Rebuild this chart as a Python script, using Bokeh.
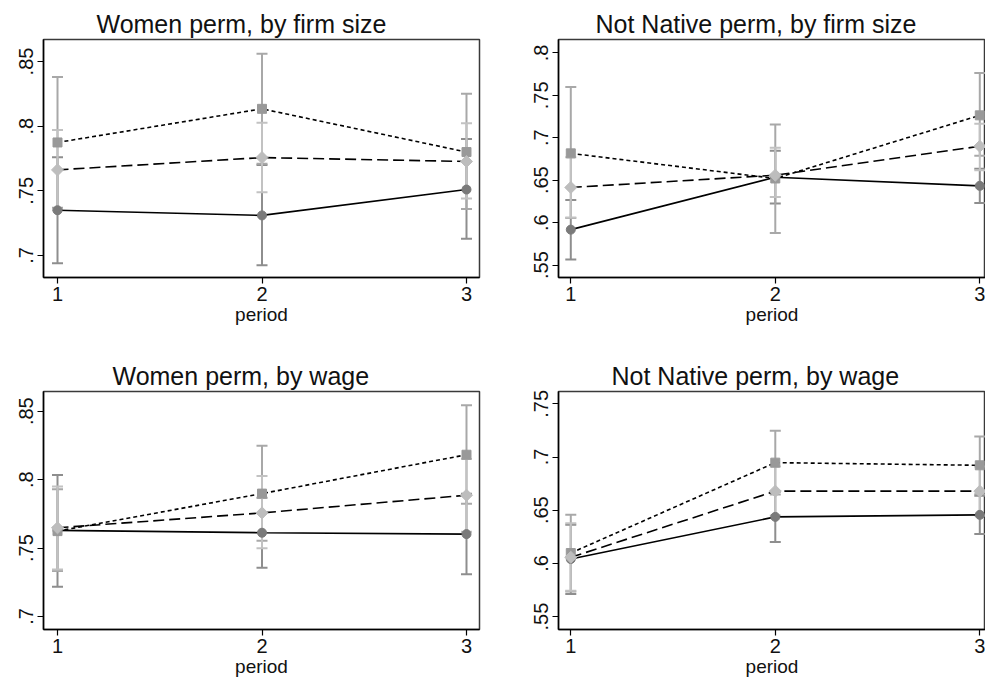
from bokeh.plotting import figure
from bokeh.models import FixedTicker, Range1d
from bokeh.layouts import row, column
from bokeh.embed import file_html
from bokeh.resources import INLINE
import math

period = [1, 2, 3]

# ---- Women perm, by firm size ----
wf_circle = [0.735, 0.731, 0.751]
wf_circle_lo = [0.694, 0.6925, 0.713]
wf_circle_hi = [0.776, 0.770, 0.790]
wf_square = [0.7874, 0.8134, 0.780]
wf_square_lo = [0.737, 0.771, 0.736]
wf_square_hi = [0.838, 0.856, 0.825]
wf_diamond = [0.7662, 0.7757, 0.7727]
wf_diamond_lo = [0.735, 0.749, 0.744]
wf_diamond_hi = [0.797, 0.8026, 0.8023]
wf_ticks = [0.7, 0.75, 0.8, 0.85]
wf_tick_labels = [".7", ".75", ".8", ".85"]

# ---- Not Native perm, by firm size ----
nf_circle = [0.5917, 0.6535, 0.6433]
nf_circle_lo = [0.5566, 0.6224, 0.623]
nf_circle_hi = [0.6267, 0.6846, 0.6636]
nf_square = [0.6816, 0.652, 0.7264]
nf_square_lo = [0.6054, 0.5877, 0.6787]
nf_square_hi = [0.7597, 0.7157, 0.7764]
nf_diamond = [0.6414, 0.6559, 0.690]
nf_diamond_lo = [0.606, 0.6303, 0.6618]
nf_diamond_hi = [0.677, 0.6882, 0.7165]
nf_ticks = [0.55, 0.6, 0.65, 0.7, 0.75, 0.8]
nf_tick_labels = [".55", ".6", ".65", ".7", ".75", ".8"]

# ---- Women perm, by wage ----
ww_circle = [0.7629, 0.7612, 0.7602]
ww_circle_lo = [0.7217, 0.7356, 0.7308]
ww_circle_hi = [0.8034, 0.7868, 0.7896]
ww_square = [0.7624, 0.7898, 0.8182]
ww_square_lo = [0.7332, 0.7553, 0.7823]
ww_square_hi = [0.793, 0.8247, 0.8544]
ww_diamond = [0.7648, 0.7757, 0.7886]
ww_diamond_lo = [0.7344, 0.7498, 0.762]
ww_diamond_hi = [0.795, 0.8027, 0.815]
ww_ticks = [0.7, 0.75, 0.8, 0.85]
ww_tick_labels = [".7", ".75", ".8", ".85"]

# ---- Not Native perm, by wage ----
nw_circle = [0.6041, 0.6437, 0.6456]
nw_circle_lo = [0.5711, 0.6201, 0.6276]
nw_circle_hi = [0.6364, 0.6673, 0.6636]
nw_square = [0.6097, 0.6947, 0.6922]
nw_square_lo = [0.5736, 0.6647, 0.665]
nw_square_hi = [0.6458, 0.7247, 0.7193]
nw_diamond = [0.6057, 0.6679, 0.6679]
nw_diamond_lo = [0.5743, 0.645, 0.645]
nw_diamond_hi = [0.6377, 0.691, 0.691]
nw_ticks = [0.55, 0.6, 0.65, 0.7, 0.75]
nw_tick_labels = [".55", ".6", ".65", ".7", ".75"]

FONT = "Liberation Sans"
C_MARK = ["#7a7a7a", "#999999", "#bdbdbd"]
C_BAR = ["#8e8e8e", "#a8a8a8", "#c2c2c2"]
DASH = ["solid", "4 3", "11 5"]


def panel(title, series, ticks, labels, yr, xr, width, height,
          bl, br, bt, bb, title_offset):
    p = figure(width=width, height=height, output_backend="svg",
               toolbar_location=None, x_range=Range1d(*xr),
               y_range=Range1d(*yr), min_border_left=bl,
               min_border_right=br, min_border_top=bt,
               min_border_bottom=bb, background_fill_color="white",
               border_fill_color="white")
    p.grid.visible = False
    p.outline_line_color = "#3a3a3a"
    p.outline_line_width = 1.5
    p.title.text = title
    p.title.text_font = FONT
    p.title.text_font_size = "25px"
    p.title.text_font_style = "normal"
    p.title.text_color = "#111111"
    p.title.align = "left"
    p.title.offset = title_offset
    p.title.standoff = 4

    # error bars first
    for (y, lo, hi), cb in zip(series, C_BAR):
        p.segment(x0=period, y0=lo, x1=period, y1=hi, line_color=cb,
                  line_width=2)
        p.scatter(x=period + period, y=lo + hi, marker="dash", size=11,
                  line_color=cb, line_width=2)
    # lines and markers
    markers = ["circle", "square", "square"]
    sizes = [9, 9, 8.5]
    angles = [0, 0, math.pi / 4]
    for i, (y, lo, hi) in enumerate(series):
        p.line(period, y, line_color="black", line_width=1.6,
               line_dash=DASH[i])
        p.scatter(period, y, marker=markers[i], size=sizes[i],
                  angle=angles[i], fill_color=C_MARK[i],
                  line_color=C_MARK[i])

    xa = p.xaxis[0]
    xa.ticker = FixedTicker(ticks=period)
    xa.axis_label = "period"
    xa.axis_label_text_font = FONT
    xa.axis_label_text_font_size = "19px"
    xa.axis_label_text_font_style = "normal"
    xa.axis_label_text_color = "#111111"
    xa.axis_label_standoff = 0
    ya = p.yaxis[0]
    ya.ticker = FixedTicker(ticks=ticks)
    ya.major_label_overrides = dict(zip(ticks, labels))
    ya.major_label_orientation = "vertical"
    ya.major_label_standoff = 4
    for ax in (xa, ya):
        ax.major_label_text_font = FONT
        ax.major_label_text_font_size = "20px"
        ax.major_label_text_color = "#111111"
        ax.axis_line_color = "black"
        ax.axis_line_width = 1.5
        ax.major_tick_line_color = "black"
        ax.major_tick_line_width = 1.2
        ax.major_tick_out = 6
        ax.major_tick_in = 0
        ax.minor_tick_line_color = None
    xa.major_label_standoff = 3
    return p


LX = (0.9315, 3.0636)
RX = (0.9399, 3.0279)

p1 = panel("Women perm, by firm size",
           [(wf_circle, wf_circle_lo, wf_circle_hi),
            (wf_square, wf_square_lo, wf_square_hi),
            (wf_diamond, wf_diamond_lo, wf_diamond_hi)],
           wf_ticks, wf_tick_labels, (0.683, 0.867), LX,
           500, 338, 43, 21, 39, 61, 53)
p2 = panel("Not Native perm, by firm size",
           [(nf_circle, nf_circle_lo, nf_circle_hi),
            (nf_square, nf_square_lo, nf_square_hi),
            (nf_diamond, nf_diamond_lo, nf_diamond_hi)],
           nf_ticks, nf_tick_labels, (0.5353, 0.8158), RX,
           485, 338, 58, 0, 39, 61, 37)
p3 = panel("Women perm, by wage",
           [(ww_circle, ww_circle_lo, ww_circle_hi),
            (ww_square, ww_square_lo, ww_square_hi),
            (ww_diamond, ww_diamond_lo, ww_diamond_hi)],
           ww_ticks, ww_tick_labels, (0.6905, 0.8644), LX,
           500, 347, 43, 21, 53, 56, 69)
p4 = panel("Not Native perm, by wage",
           [(nw_circle, nw_circle_lo, nw_circle_hi),
            (nw_square, nw_square_lo, nw_square_hi),
            (nw_diamond, nw_diamond_lo, nw_diamond_hi)],
           nw_ticks, nw_tick_labels, (0.5378, 0.7616), RX,
           485, 347, 58, 0, 53, 56, 53)

layout = column(row(p1, p2, spacing=0), row(p3, p4, spacing=0), spacing=0)
open("out.html", "w").write(file_html(layout, INLINE))
